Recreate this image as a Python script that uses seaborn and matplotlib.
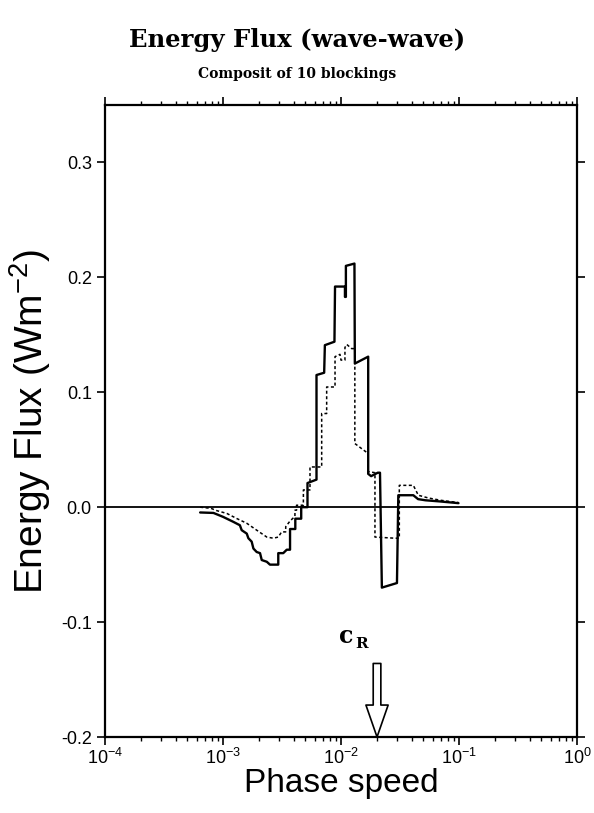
import numpy as np
import pandas as pd
import matplotlib
matplotlib.use("Agg")
import matplotlib.pyplot as plt
import seaborn as sns

# ---- data (phase speed, energy flux W m^-2) ----
solid_x = [6.4e-4, 8.3e-4, 1.0e-3, 1.22e-3, 1.39e-3, 1.44e-3, 1.59e-3, 1.64e-3, 1.75e-3,
           1.81e-3, 1.93e-3, 2.06e-3, 2.13e-3, 2.35e-3, 2.50e-3, 2.76e-3, 2.94e-3, 2.94e-3,
           3.24e-3, 3.47e-3, 3.70e-3, 3.70e-3, 4.1e-3, 4.1e-3, 4.6e-3, 4.6e-3, 5.2e-3,
           5.2e-3, 6.2e-3, 6.2e-3, 7.2e-3, 7.3e-3, 8.8e-3, 8.9e-3, 1.08e-2, 1.08e-2,
           1.10e-2, 1.10e-2, 1.30e-2, 1.31e-2, 1.70e-2, 1.70e-2, 1.80e-2, 2.05e-2, 2.14e-2,
           2.22e-2, 2.98e-2, 3.06e-2, 4.10e-2, 4.5e-2, 5.2e-2, 6.9e-2, 9.9e-2]
solid_y = [-0.0046, -0.005, -0.0084, -0.0127, -0.0157, -0.020, -0.023, -0.027, -0.030,
           -0.036, -0.039, -0.040, -0.046, -0.0475, -0.050, -0.050, -0.050, -0.040,
           -0.040, -0.037, -0.037, -0.019, -0.019, -0.010, -0.010, 0.000, 0.000,
           0.021, 0.024, 0.115, 0.117, 0.141, 0.144, 0.192, 0.192, 0.183,
           0.183, 0.210, 0.212, 0.125, 0.131, 0.029, 0.027, 0.030, 0.030,
           -0.070, -0.066, 0.0104, 0.0104, 0.007, 0.006, 0.005, 0.0035]

dotted_x = [6.4e-4, 7.9e-4, 8.85e-4, 1.08e-3, 1.31e-3, 1.59e-3, 1.93e-3, 2.35e-3, 2.67e-3,
            2.94e-3, 3.14e-3, 3.40e-3, 3.40e-3, 3.70e-3, 4.07e-3, 4.07e-3, 4.2e-3, 4.2e-3,
            4.8e-3, 4.8e-3, 5.46e-3, 5.46e-3, 6.86e-3, 6.86e-3, 7.56e-3, 7.56e-3, 8.9e-3,
            8.9e-3, 9.8e-3, 1.00e-2, 1.08e-2, 1.08e-2, 1.12e-2, 1.23e-2, 1.31e-2, 1.31e-2,
            1.70e-2, 1.70e-2, 1.94e-2, 1.94e-2, 2.87e-2, 3.12e-2, 3.12e-2, 4.10e-2, 4.52e-2,
            5.5e-2, 7.0e-2, 9.9e-2]
dotted_y = [0.000, -0.001, -0.003, -0.0055, -0.0099, -0.014, -0.020, -0.026, -0.027,
            -0.026, -0.0215, -0.0215, -0.017, -0.012, -0.008, -0.0026, -0.0026, 0.0017,
            0.0017, 0.015, 0.015, 0.035, 0.035, 0.0815, 0.0815, 0.1046, 0.1046,
            0.131, 0.133, 0.128, 0.128, 0.139, 0.1416, 0.138, 0.138, 0.0554,
            0.0467, 0.031, 0.030, -0.026, -0.027, -0.027, 0.019, 0.019, 0.0104,
            0.008, 0.006, 0.004]

c_R = 0.0202
y_ticks = [-0.2, -0.1, 0.0, 0.1, 0.2, 0.3]
y_ticklabels = ["-0.2", "-0.1", "0.0", "0.1", "0.2", "0.3"]
x_ticks = [1e-4, 1e-3, 1e-2, 1e-1, 1e0]

sns.set_theme(style="ticks")
plt.rcParams["font.family"] = ["Liberation Sans", "DejaVu Sans"]
plt.rcParams["axes.unicode_minus"] = False

fig = plt.figure(figsize=(5.94, 8.13), dpi=100)
ax = fig.add_axes([105 / 594, 1 - 737 / 813, 472 / 594, 632 / 813])

df_s = pd.DataFrame({"x": solid_x, "y": solid_y})
df_d = pd.DataFrame({"x": dotted_x, "y": dotted_y})
sns.lineplot(data=df_s, x="x", y="y", sort=False, estimator=None, color="black",
             lw=1.7, ax=ax)
sns.lineplot(data=df_d, x="x", y="y", sort=False, estimator=None, color="black",
             lw=1.1, linestyle=(0, (2.0, 1.6)), ax=ax)
ax.axhline(0, color="black", lw=1.3, zorder=1)

ax.set_xscale("log")
ax.set_xlim(1e-4, 1e0)
ax.set_ylim(-0.2, 0.35)
ax.set_xticks(x_ticks)
ax.set_yticks(y_ticks)
ax.set_yticklabels(y_ticklabels)
ax.tick_params(axis="both", which="major", direction="out", length=6, width=1.2,
               labelsize=13, top=True, right=True, labeltop=False, labelright=False,
               color="black", labelcolor="black")
ax.tick_params(axis="x", which="major", pad=2)
ax.tick_params(axis="x", which="minor", direction="out", length=3, width=1.0,
               top=True, bottom=True, color="black")
ax.tick_params(axis="y", which="minor", left=False, right=False)
for sp in ax.spines.values():
    sp.set_linewidth(1.6)
    sp.set_color("black")
    sp.set_visible(True)

ax.set_xlabel("Phase speed", fontsize=24, labelpad=0, color="black")
ax.set_ylabel(r"Energy Flux (Wm$^{\mathdefault{-2}}$)", fontsize=28, labelpad=6,
              color="black")

# c_R arrow
ax.annotate("", xy=(c_R, -0.2), xytext=(c_R, -0.136),
            arrowprops=dict(arrowstyle="simple,head_length=23,head_width=16,tail_width=5.5",
                            mutation_scale=1, fc="white", ec="black", lw=1.2,
                            shrinkA=0, shrinkB=0))
ax.annotate("c", xy=(c_R, -0.118), xytext=(-22, 0), textcoords="offset points",
            ha="center", va="baseline", fontsize=17, fontweight="bold",
            family="DejaVu Serif", color="black")
ax.annotate("R", xy=(c_R, -0.118), xytext=(-16, -4), textcoords="offset points",
            ha="left", va="baseline", fontsize=11, fontweight="bold",
            family="DejaVu Serif", color="black")

fig.text(0.5, 1 - 40 / 813, "Energy Flux (wave-wave)", ha="center", va="center",
         fontsize=17.5, fontweight="bold", family="DejaVu Serif", color="black")
fig.text(0.5, 1 - 74 / 813, "Composit of 10 blockings", ha="center", va="center",
         fontsize=10, fontweight="bold", family="DejaVu Serif", color="black")

fig.savefig("out.png", dpi=100)
